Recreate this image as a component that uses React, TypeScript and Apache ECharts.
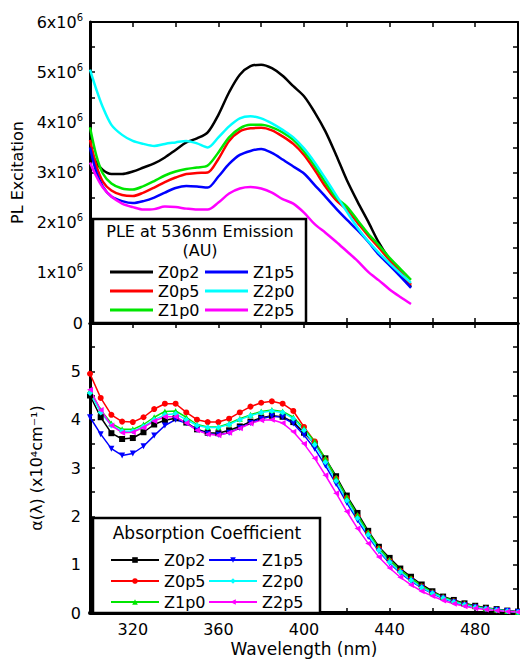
import React, { useEffect, useRef } from "react";
import * as echarts from "echarts";

// ---------- PLE panel (values in units of 10^6) ----------
const pleWavelength = [300, 303, 306, 310, 315, 320, 325, 330, 335, 340, 345, 350, 355, 360, 365, 370, 375, 380, 385, 390, 395, 400, 405, 410, 415, 420, 425, 430, 435, 440, 445, 450];
const pleZ0p2 = [3.45, 3.2, 3.05, 2.97, 2.97, 3.02, 3.1, 3.18, 3.3, 3.45, 3.6, 3.68, 3.8, 4.15, 4.6, 4.95, 5.12, 5.15, 5.08, 4.93, 4.72, 4.52, 4.2, 3.82, 3.35, 2.85, 2.42, 2.02, 1.6, 1.27, 1.0, 0.72];
const pleZ0p5 = [3.65, 3.13, 2.82, 2.64, 2.55, 2.53, 2.6, 2.7, 2.81, 2.9, 2.97, 2.99, 3.0, 3.27, 3.63, 3.82, 3.88, 3.89, 3.84, 3.72, 3.57, 3.35, 3.05, 2.72, 2.45, 2.26, 2.0, 1.74, 1.5, 1.25, 1.02, 0.76];
const pleZ1p0 = [3.9, 3.33, 2.98, 2.78, 2.68, 2.66, 2.73, 2.83, 2.94, 3.02, 3.07, 3.1, 3.14, 3.4, 3.7, 3.88, 3.95, 3.95, 3.9, 3.8, 3.65, 3.42, 3.13, 2.8, 2.5, 2.32, 2.05, 1.78, 1.55, 1.3, 1.08, 0.86];
const pleZ1p5 = [3.5, 3.0, 2.72, 2.52, 2.43, 2.39, 2.43, 2.5, 2.6, 2.69, 2.73, 2.72, 2.7, 2.92, 3.17, 3.35, 3.43, 3.47, 3.39, 3.26, 3.12, 2.98, 2.75, 2.52, 2.28, 2.06, 1.85, 1.62, 1.36, 1.15, 0.93, 0.7];
const pleZ2p0 = [5.05, 4.65, 4.3, 3.95, 3.75, 3.63, 3.57, 3.53, 3.57, 3.6, 3.63, 3.58, 3.5, 3.7, 3.92, 4.08, 4.12, 4.08, 3.98, 3.85, 3.7, 3.48, 3.2, 2.88, 2.55, 2.22, 1.9, 1.63, 1.4, 1.19, 0.99, 0.8];
const pleZ2p5 = [3.2, 2.92, 2.7, 2.52, 2.38, 2.31, 2.26, 2.27, 2.32, 2.31, 2.28, 2.26, 2.26, 2.4, 2.58, 2.68, 2.71, 2.68, 2.6, 2.47, 2.38, 2.2, 1.97, 1.8, 1.62, 1.43, 1.24, 1.02, 0.85, 0.67, 0.52, 0.38];

// ---------- Absorption panel (x10^4 cm^-1) ----------
const absWavelength = [300, 305, 310, 315, 320, 325, 330, 335, 340, 345, 350, 355, 360, 365, 370, 375, 380, 385, 390, 395, 400, 405, 410, 415, 420, 425, 430, 435, 440, 445, 450, 455, 460, 465, 470, 475, 480, 485, 490, 495, 500];
const absZ0p2 = [4.5, 4.05, 3.72, 3.6, 3.62, 3.74, 3.9, 3.99, 4.03, 3.94, 3.8, 3.73, 3.72, 3.78, 3.86, 3.96, 4.04, 4.08, 4.06, 3.95, 3.73, 3.5, 3.2, 2.83, 2.43, 2.07, 1.7, 1.37, 1.14, 0.92, 0.75, 0.59, 0.45, 0.34, 0.27, 0.2, 0.15, 0.11, 0.08, 0.05, 0.03];
const absZ0p5 = [4.95, 4.45, 4.1, 3.96, 3.95, 4.05, 4.22, 4.33, 4.33, 4.15, 4.0, 3.95, 3.95, 4.02, 4.15, 4.27, 4.35, 4.38, 4.33, 4.18, 3.85, 3.55, 3.17, 2.78, 2.38, 2.0, 1.65, 1.33, 1.08, 0.87, 0.7, 0.55, 0.42, 0.32, 0.24, 0.18, 0.13, 0.09, 0.06, 0.04, 0.02];
const absZ1p0 = [4.6, 4.2, 3.92, 3.8, 3.8, 3.9, 4.05, 4.17, 4.18, 4.05, 3.9, 3.85, 3.85, 3.92, 4.02, 4.1, 4.17, 4.2, 4.17, 4.05, 3.82, 3.55, 3.2, 2.8, 2.4, 2.03, 1.67, 1.35, 1.1, 0.89, 0.72, 0.56, 0.43, 0.33, 0.25, 0.19, 0.14, 0.1, 0.07, 0.04, 0.02];
const absZ1p5 = [4.05, 3.7, 3.4, 3.26, 3.3, 3.45, 3.67, 3.88, 4.0, 3.93, 3.79, 3.71, 3.69, 3.73, 3.83, 3.93, 4.02, 4.07, 4.05, 3.92, 3.68, 3.4, 3.05, 2.67, 2.28, 1.92, 1.58, 1.28, 1.03, 0.83, 0.66, 0.52, 0.4, 0.3, 0.22, 0.16, 0.12, 0.08, 0.06, 0.04, 0.02];
const absZ2p0 = [4.55, 4.15, 3.88, 3.76, 3.76, 3.86, 4.0, 4.1, 4.12, 4.0, 3.88, 3.84, 3.84, 3.9, 4.0, 4.08, 4.15, 4.18, 4.15, 4.02, 3.78, 3.48, 3.12, 2.73, 2.33, 1.96, 1.62, 1.3, 1.05, 0.85, 0.68, 0.53, 0.41, 0.31, 0.23, 0.17, 0.12, 0.09, 0.06, 0.04, 0.02];
const absZ2p5 = [4.62, 4.2, 3.88, 3.73, 3.74, 3.84, 3.97, 4.06, 4.06, 3.93, 3.78, 3.7, 3.68, 3.73, 3.82, 3.92, 3.99, 4.0, 3.93, 3.75, 3.5, 3.2, 2.85, 2.48, 2.1, 1.75, 1.44, 1.16, 0.93, 0.74, 0.58, 0.45, 0.35, 0.26, 0.19, 0.14, 0.1, 0.07, 0.05, 0.03, 0.02];

const sampleNames = ["Z0p2", "Z0p5", "Z1p0", "Z1p5", "Z2p0", "Z2p5"];
const sampleColors = ["#000000", "#ff0000", "#00e600", "#0000ff", "#00ffff", "#ff00ff"];
const absSymbols = ["rect", "circle", "triangle", "triangle", "diamond", "triangle"];
const absSymbolRotate = [0, 0, 0, 180, 0, 90];
const pleValues = [pleZ0p2, pleZ0p5, pleZ1p0, pleZ1p5, pleZ2p0, pleZ2p5];
const absValues = [absZ0p2, absZ0p5, absZ1p0, absZ1p5, absZ2p0, absZ2p5];

const wavelengthLabels = [320, 360, 400, 440, 480];
const pleTickLabels = [0, 1, 2, 3, 4, 5, 6];
const absTickLabels = [0, 1, 2, 3, 4, 5];

const FONT = "DejaVu Sans";

export default function App() {
  const ref = useRef<HTMLDivElement>(null);

  useEffect(() => {
    if (!ref.current) return;
    const chart = echarts.init(ref.current, undefined, { renderer: "svg" });

    const tickStyle = { inside: true, length: 5, lineStyle: { color: "#000", width: 1.5 } };
    const minor = { show: true, splitNumber: 2, length: 5, lineStyle: { color: "#000", width: 1.5 } };
    const line = (w: number) => ({ show: true, onZero: false, lineStyle: { color: "#000", width: w } });

    const xBase = { type: "value", min: 300, max: 500, interval: 20, splitLine: { show: false }, axisTick: tickStyle };
    const series: any[] = [];
    sampleNames.forEach((n, i) => {
      series.push({
        name: "PLE " + n,
        type: "line",
        xAxisIndex: 0,
        yAxisIndex: 0,
        symbol: "none",
        smooth: 0.3,
        color: sampleColors[i],
        itemStyle: { color: sampleColors[i] },
        lineStyle: { width: 2.5, color: sampleColors[i] },
        data: pleWavelength.map((x, k) => [x, pleValues[i][k]]),
      });
    });
    sampleNames.forEach((n, i) => {
      series.push({
        name: "ABS " + n,
        type: "line",
        xAxisIndex: 2,
        yAxisIndex: 2,
        symbol: absSymbols[i],
        symbolRotate: absSymbolRotate[i],
        symbolSize: 6,
        color: sampleColors[i],
        itemStyle: { color: sampleColors[i] },
        lineStyle: { width: 1.5, color: sampleColors[i] },
        data: absWavelength.map((x, k) => [x, absValues[i][k]]),
      });
    });

    const legendText = { fontFamily: FONT, fontSize: 16, color: "#000", lineHeight: 16 };
    const pleLegend = (left: number, names: string[]) => ({
      orient: "vertical", left, top: 259, icon: "rect", itemWidth: 43, itemHeight: 3, itemGap: 3, z: 20,
      selectedMode: false, data: names, formatter: (n: string) => n.slice(4), textStyle: legendText,
    });
    const absLegend = (left: number, names: string[]) => ({
      orient: "vertical", left, top: 547, itemWidth: 48, itemHeight: 7, itemGap: 5, z: 20,
      selectedMode: false, data: names, formatter: (n: string) => n.slice(4), textStyle: legendText,
    });

    chart.setOption({
      animation: false,
      backgroundColor: "#ffffff",
      textStyle: { fontFamily: FONT },
      grid: [
        { left: 90, top: 22, width: 428, height: 301 },
        { left: 90, top: 323, width: 428, height: 290 },
      ],
      xAxis: [
        { ...xBase, gridIndex: 0, position: "bottom", axisLine: line(3), axisLabel: { show: false } },
        { ...xBase, gridIndex: 0, position: "top", axisLine: line(2), axisLabel: { show: false } },
        {
          ...xBase,
          gridIndex: 1,
          position: "bottom",
          axisLine: line(4),
          axisLabel: { show: true, customValues: wavelengthLabels, margin: 8, fontSize: 16, color: "#000", fontFamily: FONT },
          name: "Wavelength (nm)",
          nameLocation: "middle",
          nameGap: 27,
          nameTextStyle: { fontSize: 17, color: "#000", fontFamily: FONT },
        },
        { ...xBase, gridIndex: 1, position: "top", axisLine: line(3), axisLabel: { show: false } },
      ],
      yAxis: [
        {
          type: "value",
          gridIndex: 0,
          position: "left",
          min: 0,
          max: 6,
          interval: 1,
          axisLine: line(3),
          axisTick: tickStyle,
          minorTick: minor,
          splitLine: { show: false },
          axisLabel: {
            customValues: pleTickLabels,
            margin: 7,
            color: "#000",
            fontSize: 16,
            fontFamily: FONT,
            formatter: (v: number) => (v === 0 ? "{b|0}" : `{b|${v}x10}{s|6}`),
            rich: {
              b: { fontSize: 16, fontFamily: FONT, color: "#000" },
              s: { fontSize: 10, fontFamily: FONT, color: "#000", padding: [0, 0, 10, 0] },
            },
          },
          name: "PL Excitation",
          nameLocation: "middle",
          nameGap: 64,
          nameTextStyle: { fontSize: 16, color: "#000", fontFamily: FONT },
        },
        {
          type: "value",
          gridIndex: 0,
          position: "right",
          min: 0,
          max: 6,
          interval: 0.5,
          axisLine: line(2),
          axisTick: tickStyle,
          splitLine: { show: false },
          axisLabel: { show: false },
        },
        {
          type: "value",
          gridIndex: 1,
          position: "left",
          min: 0,
          max: 6,
          interval: 1,
          axisLine: line(3),
          axisTick: tickStyle,
          minorTick: minor,
          splitLine: { show: false },
          axisLabel: { customValues: absTickLabels, margin: 9, color: "#000", fontSize: 16, fontFamily: FONT },
          name: "α(λ) (x10⁴cm⁻¹)",
          nameLocation: "middle",
          nameGap: 46,
          nameTextStyle: { fontSize: 16, color: "#000", fontFamily: FONT },
        },
        {
          type: "value",
          gridIndex: 1,
          position: "right",
          min: 0,
          max: 6,
          interval: 0.5,
          axisLine: line(2),
          axisTick: tickStyle,
          splitLine: { show: false },
          axisLabel: { show: false },
        },
      ],
      legend: [
        pleLegend(105, ["PLE Z0p2", "PLE Z0p5", "PLE Z1p0"]),
        pleLegend(200, ["PLE Z1p5", "PLE Z2p0", "PLE Z2p5"]),
        absLegend(105, ["ABS Z0p2", "ABS Z0p5", "ABS Z1p0"]),
        absLegend(203, ["ABS Z1p5", "ABS Z2p0", "ABS Z2p5"]),
      ],
      graphic: [
        { type: "rect", z: 10, shape: { x: 93, y: 219, width: 213, height: 104 }, style: { fill: "#fff", stroke: "#000", lineWidth: 2.5 } },
        { type: "text", z: 20, x: 200, y: 231, style: { text: "PLE at 536nm Emission", fontFamily: FONT, fontSize: 16, fill: "#000", align: "center", verticalAlign: "middle" } },
        { type: "text", z: 20, x: 200, y: 250, style: { text: "(AU)", fontFamily: FONT, fontSize: 16, fill: "#000", align: "center", verticalAlign: "middle" } },
        { type: "rect", z: 10, shape: { x: 93, y: 518, width: 227, height: 95 }, style: { fill: "#fff", stroke: "#000", lineWidth: 2.5 } },
        { type: "text", z: 20, x: 207, y: 533, style: { text: "Absorption Coefficient", fontFamily: FONT, fontSize: 17, fill: "#000", align: "center", verticalAlign: "middle" } },
      ],
      series,
    });

    return () => chart.dispose();
  }, []);

  return <div ref={ref} style={{ position: "fixed", left: 0, top: 0, width: 520, height: 660, background: "#fff" }} />;
}
